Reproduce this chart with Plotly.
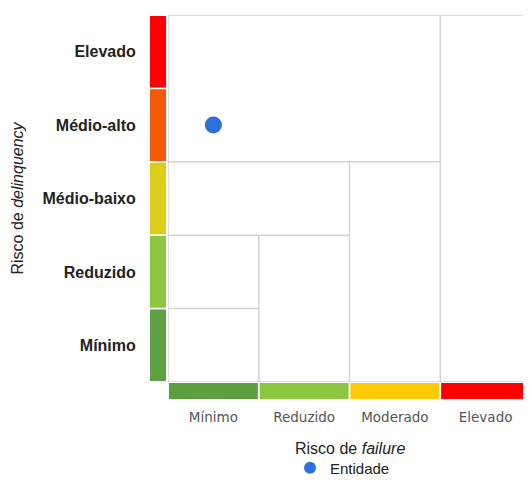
import plotly.graph_objects as go

# ---- data ----
x_categories = ["Mínimo", "Reduzido", "Moderado", "Elevado"]
y_categories = ["Mínimo", "Reduzido", "Médio-baixo", "Médio-alto", "Elevado"]
x_band_colors = ["#5d9f40", "#8cc63e", "#ffc907", "#fe0000"]
y_band_colors = ["#5da142", "#8dc63f", "#dccd1b", "#f25a07", "#fe0000"]
series_name = "Entidade"
entity_x = ["Mínimo"]
entity_y = ["Médio-alto"]

OFF = 8  # page body margin
W, H = 531 - OFF, 486 - 2 * OFF
L, T = 168 - OFF, 15 - OFF
R = 0
B = H - (382 - OFF)
pw, ph = W - L - R, H - T - B

def px_x(p):
    return (p - OFF - L) / pw

def px_y(p):
    return (H - B - (p - OFF)) / ph

fig = go.Figure()
fig.add_trace(go.Scatter(
    x=entity_x, y=entity_y, mode="markers", name=series_name,
    marker=dict(color="#2f6fdd", size=17),
))

shapes = []
grid = dict(color="#d4d4d4", width=1.5)
# outer border (left, top, bottom)
shapes.append(dict(type="line", xref="x", yref="y", x0=-0.5, x1=-0.5, y0=-0.5, y1=4.5, line=grid))
shapes.append(dict(type="line", xref="x", yref="y", x0=-0.5, x1=3.5, y0=4.5, y1=4.5, line=grid))
shapes.append(dict(type="line", xref="x", yref="y", x0=-0.5, x1=3.5, y0=-0.5, y1=-0.5, line=grid))
# staircase zones
for i in range(3):
    shapes.append(dict(type="line", xref="x", yref="y", x0=-0.5, x1=i + 0.5, y0=i + 0.5, y1=i + 0.5, line=grid))
    top = i + 1.5 if i < 2 else 4.5
    shapes.append(dict(type="line", xref="x", yref="y", x0=i + 0.5, x1=i + 0.5, y0=-0.5, y1=top, line=grid))

# colored bands along axes
for i, c in enumerate(y_band_colors):
    shapes.append(dict(type="rect", xref="paper", yref="y",
                       x0=px_x(150), x1=px_x(166), y0=i - 0.5 + 0.012, y1=i + 0.5 - 0.012,
                       fillcolor=c, line=dict(width=0), layer="above"))
for i, c in enumerate(x_band_colors):
    shapes.append(dict(type="rect", xref="x", yref="paper",
                       x0=i - 0.5 + 0.01, x1=i + 0.5 - 0.01, y0=px_y(399), y1=px_y(383),
                       fillcolor=c, line=dict(width=0), layer="above"))

fig.update_layout(
    width=W, height=H,
    margin=dict(l=L, r=R, t=T, b=B, autoexpand=False),
    paper_bgcolor="white", plot_bgcolor="white",
    shapes=shapes,
    showlegend=True,
    legend=dict(orientation="h", x=px_x(290), xanchor="left", y=px_y(468), yanchor="middle",
                font=dict(family="Liberation Sans, Arial", size=15, color="#222"),
                itemsizing="constant"),
    xaxis=dict(type="category", categoryorder="array", categoryarray=x_categories,
               range=[-0.5, 3.5], showgrid=False, zeroline=False, showline=False,
               ticks="outside", ticklen=23, tickcolor="rgba(0,0,0,0)",
               tickfont=dict(family="DejaVu Sans", size=13.5, color="#555")),
    yaxis=dict(type="category", categoryorder="array", categoryarray=y_categories,
               range=[-0.5, 4.5], showgrid=False, zeroline=False, showline=False,
               ticks="outside", ticklen=28, tickcolor="rgba(0,0,0,0)",
               tickfont=dict(family="Liberation Sans, Arial", size=16, color="#222", weight="bold")),
    annotations=[
        dict(text="Risco de <i>failure</i>", xref="paper", yref="paper",
             x=0.5, y=px_y(448), xanchor="center", yanchor="middle", showarrow=False,
             font=dict(family="Liberation Sans, Arial", size=16, color="#222")),
        dict(text="Risco de <i>delinquency</i>", xref="paper", yref="paper",
             x=px_x(17), y=0.5, xanchor="center", yanchor="middle", showarrow=False,
             textangle=-90,
             font=dict(family="Liberation Sans, Arial", size=16, color="#222")),
    ],
)

fig.write_html("out.html")
